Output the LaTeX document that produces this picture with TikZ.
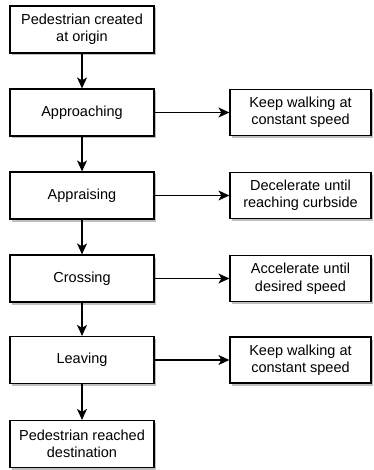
\documentclass[tikz,border=0pt]{standalone}
\usepackage{fontspec}
\setmainfont{Liberation Sans}
\usetikzlibrary{arrows.meta,shadows,positioning}
\tikzset{
  box/.style={draw=black, line width=1.2pt, fill=white, minimum width=144pt, minimum height=47pt,
    align=center, font=\fontsize{14.5}{17.5}\selectfont, inner sep=2pt,
    drop shadow={shadow xshift=2pt, shadow yshift=-2.5pt, opacity=0.25, fill=black}},
  rbox/.style={box, minimum width=141pt, minimum height=46pt},
  conn/.style={draw=black, line width=1.2pt, -{Stealth[length=11pt, width=10pt, inset=3pt]}}
}
\begin{document}
\begin{tikzpicture}[x=1pt,y=-1pt]
\useasboundingbox (0,0) rectangle (373,470);
\node[box] (s)  at (82,29.5) {Pedestrian created\\at origin};
\node[box] (a1) at (82,112.5) {Approaching};
\node[box] (a2) at (82,195.5) {Appraising};
\node[box] (a3) at (82,278.5) {Crossing};
\node[box] (a4) at (82,360) {Leaving};
\node[box] (e)  at (82,444) {Pedestrian reached\\destination};
\node[rbox] (r1) at (300.5,112.5) {Keep walking at\\constant speed};
\node[rbox] (r2) at (300.5,195.5) {Decelerate until\\reaching curbside};
\node[rbox] (r3) at (300.5,278.5) {Accelerate until\\desired speed};
\node[rbox] (r4) at (300.5,360) {Keep walking at\\constant speed};
\draw[conn] (s) -- (a1);
\draw[conn] (a1) -- (a2);
\draw[conn] (a2) -- (a3);
\draw[conn] (a3) -- (a4);
\draw[conn] (a4) -- (e);
\draw[conn] (a1) -- (r1);
\draw[conn] (a2) -- (r2);
\draw[conn] (a3) -- (r3);
\draw[conn] (a4) -- (r4);
\end{tikzpicture}
\end{document}
